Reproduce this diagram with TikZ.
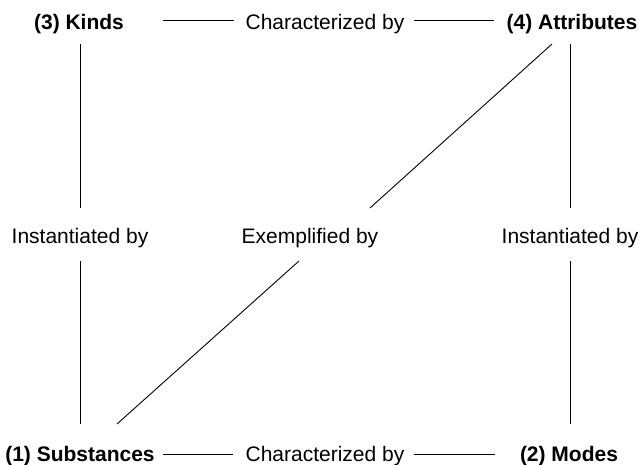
\documentclass[tikz,border=0pt]{standalone}
\usepackage{fontspec}
\setmainfont{Liberation Sans}
\begin{document}
\begin{tikzpicture}[x=1pt,y=-1pt,
  lbl/.style={inner sep=0pt, anchor=base, font=\fontsize{21}{25}\selectfont},
  blbl/.style={inner sep=0pt, anchor=base, font=\fontsize{21}{25}\selectfont\bfseries},
  conn/.style={draw=black, line width=0.9pt}]
\useasboundingbox (0,0) rectangle (639,465);
% top row
\node[blbl] (kinds) at (79,30) {(3) Kinds};
\node[lbl]  (chartop) at (325,30) {Characterized by};
\node[blbl] (attr) at (572,30) {(4) Attributes};
% middle row
\node[lbl] (instl) at (80,243) {Instantiated by};
\node[lbl] (exem) at (310,243) {Exemplified by};
\node[lbl] (instr) at (570,243) {Instantiated by};
% bottom row
\node[blbl] (subst) at (80,461) {(1) Substances};
\node[lbl]  (charbot) at (325,461) {Characterized by};
\node[blbl] (modes) at (569,461) {(2) Modes};
% connector end points
\coordinate (t1a) at (163,20); \coordinate (t1b) at (234,20);
\coordinate (t2a) at (414,20); \coordinate (t2b) at (494,20);
\coordinate (b1a) at (163,454); \coordinate (b1b) at (233,454);
\coordinate (b2a) at (414,454); \coordinate (b2b) at (495,454);
\coordinate (l1a) at (80,44);  \coordinate (l1b) at (80,208);
\coordinate (l2a) at (80,261); \coordinate (l2b) at (80,424);
\coordinate (r1a) at (570,44); \coordinate (r1b) at (570,208);
\coordinate (r2a) at (570,261); \coordinate (r2b) at (570,424);
\coordinate (d1a) at (552,44); \coordinate (d1b) at (370,208);
\coordinate (d2a) at (299,261); \coordinate (d2b) at (117,424);
% connectors
\draw[conn] (t1a) -- (t1b);
\draw[conn] (t2a) -- (t2b);
\draw[conn] (b1a) -- (b1b);
\draw[conn] (b2a) -- (b2b);
\draw[conn] (l1a) -- (l1b);
\draw[conn] (l2a) -- (l2b);
\draw[conn] (r1a) -- (r1b);
\draw[conn] (r2a) -- (r2b);
\draw[conn] (d1a) -- (d1b);
\draw[conn] (d2a) -- (d2b);
\end{tikzpicture}
\end{document}
